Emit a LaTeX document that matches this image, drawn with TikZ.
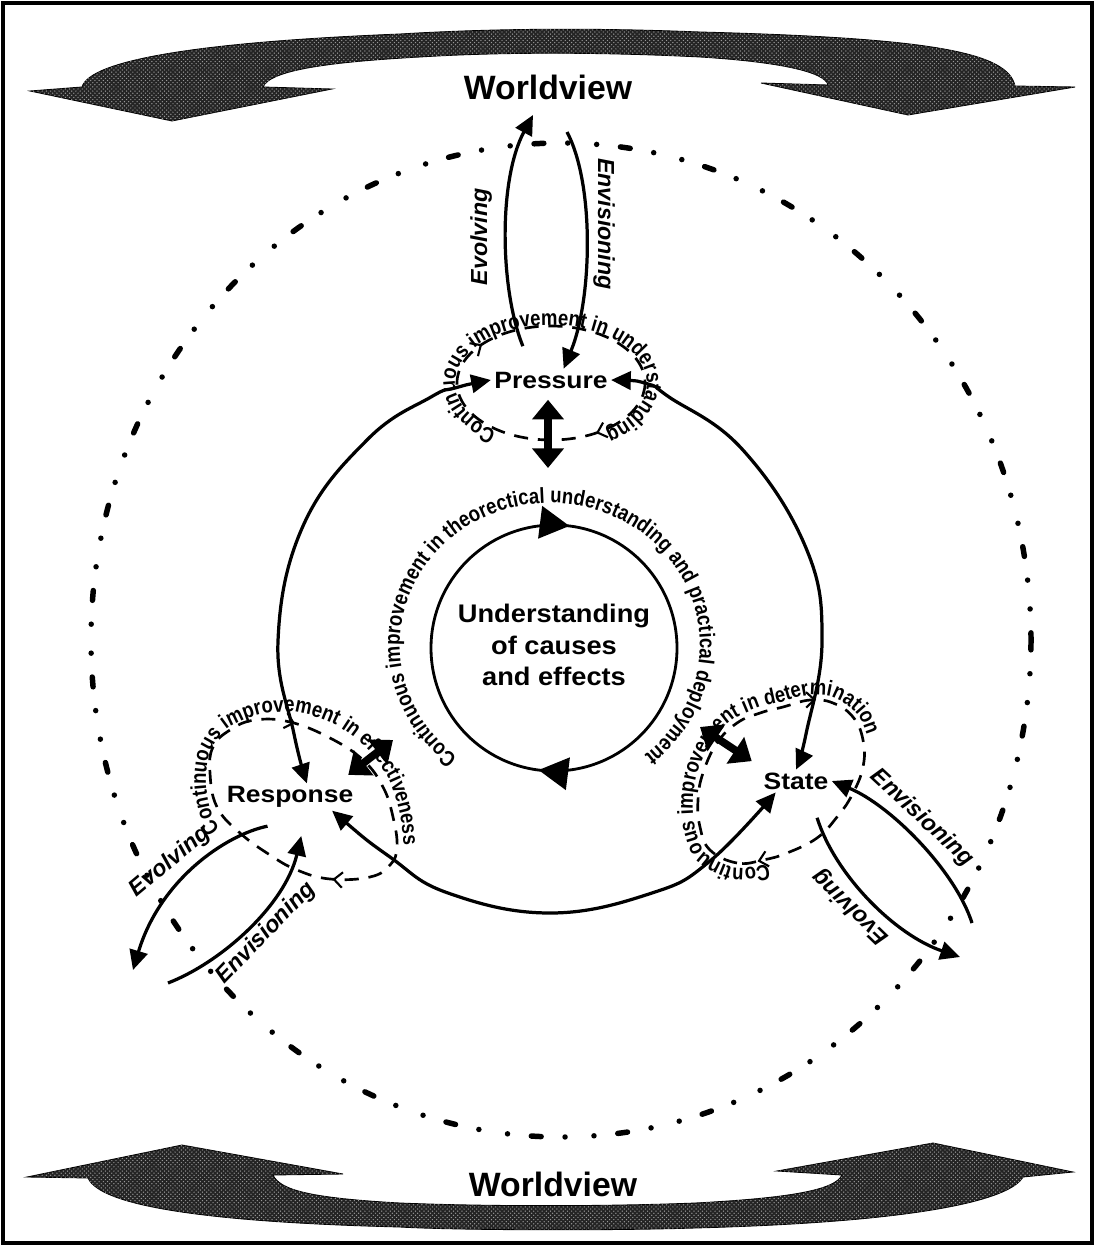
\documentclass[tikz,border=0pt]{standalone}
\usepackage{fontspec}
\setmainfont{Liberation Sans}
\newfontfamily\arcfam[FakeStretch=0.85]{Liberation Sans}
\usetikzlibrary{arrows.meta,decorations.markings,decorations.text,patterns}
\newcommand\worldfont{\bfseries\fontsize{24}{28}\selectfont}
\newcommand\lblfont{\bfseries\fontsize{16.8}{20}\selectfont}
\newcommand\corefont{\bfseries\fontsize{18.1}{22.4}\selectfont}
\newcommand\flowfont{\bfseries\itshape\fontsize{16.5}{20}\selectfont}
\newcommand\arcfont{\arcfam\bfseries\fontsize{15.5}{18}\selectfont}
\tikzset{
  outerframe/.style={line width=2.2pt},
  band/.style={fill=black!86, draw=black, line width=0.6pt,
    postaction={pattern=crosshatch dots, pattern color=black!40}},
  worldlbl/.style={font=\worldfont},
  keylbl/.style={font=\lblfont, inner sep=2pt, xscale=1.12},
  corelbl/.style={font=\corefont, align=center, xscale=1.07},
  flowlbl/.style={font=\flowfont, inner sep=1pt},
  outerring/.style={line width=3.9pt, line cap=round,
    dash pattern=on 7pt off 17pt on 0pt off 20.6pt on 0pt off 17pt},
  ring/.style={line width=2.3pt, {Triangle[length=14pt,width=13pt]}-{Triangle[length=14pt,width=13pt]}},
  flow/.style={line width=2.3pt, -{Triangle[length=14pt,width=13pt]}},
  thickdbl/.style={line width=5.5pt, {Triangle[length=14pt,width=22pt]}-{Triangle[length=14pt,width=22pt]}},
  coreline/.style={line width=2pt},
  loopline/.style={line width=1.9pt, dash pattern=on 10pt off 7pt},
  loopmarks/.style 2 args={postaction={decorate}, decoration={markings,
    mark=at position #1 with {\arrow{Straight Barb[length=6pt,width=11pt,line width=1.5pt]}},
    mark=at position #2 with {\arrow{Straight Barb[length=6pt,width=11pt,line width=1.5pt]}}}},
  arctxt/.style={decorate, decoration={text along path, text align=center, text={|\arcfont|#1}}}
}

\begin{document}
\begin{tikzpicture}[x=0.025cm,y=-0.025cm]
  \useasboundingbox (0,0) rectangle (1095,1247);
  \draw[outerframe] (3,3) rectangle (1092,1243);

  % worldview bands
  \filldraw[band] (30,91) -- (172,121) -- (332,89) -- (263,87)
    .. controls (270,70) and (330,62) .. (420,57)
    .. controls (500,52) and (600,52) .. (700,57)
    .. controls (780,62) and (825,72) .. (828,85)
    -- (761,83) -- (908,115) -- (1075,87) -- (1015,86)
    .. controls (1008,52) and (930,38) .. (700,32)
    .. controls (600,28) and (500,28) .. (400,34)
    .. controls (200,42) and (90,60) .. (82,87) -- cycle;
  \filldraw[band] (27,1177) -- (182,1145) -- (343,1174) -- (273,1175)
    .. controls (280,1190) and (310,1198) .. (400,1203)
    .. controls (500,1207) and (620,1206) .. (695,1203)
    .. controls (790,1198) and (835,1190) .. (842,1175)
    -- (777,1171) -- (933,1143) -- (1073,1172) -- (1023,1177)
    .. controls (1010,1200) and (920,1222) .. (695,1228)
    .. controls (600,1231) and (450,1230) .. (400,1227)
    .. controls (200,1222) and (100,1205) .. (88,1178) -- cycle;
  \node[worldlbl] (wvTop) at (548,87) {Worldview};
  \node[worldlbl] (wvBot) at (553,1184) {Worldview};

  \draw[outerring] (561,640) ellipse [x radius=470, y radius=497];

  % the three poles
  \node[keylbl] (press) at (551,380) {Pressure};
  \node[keylbl] (resp) at (290,797) {Response};
  \node[keylbl] (state) at (796,781) {State};
  \node[corelbl] (core) at (554,645) {Understanding\\of causes\\and effects};

  % core loop
  \draw[coreline, postaction={decorate}, decoration={markings,
      mark=at position 0.27 with {\arrow{Triangle[length=21pt,width=23pt]}},
      mark=at position 0.77 with {\arrow{Triangle[length=21pt,width=23pt]}}}]
    (677,648) arc[start angle=0, end angle=360, radius=123];
  \path[arctxt={Continuous improvement in theorectical understanding and practical deployment}]
    (461.65,759.9) arc[start angle=126, end angle=413, x radius=150, y radius=142];

  % loops round the poles
  \draw[loopline, loopmarks={0.155}{0.6}] (645,383) arc[start angle=0, end angle=360, x radius=94, y radius=57];
  \path[arctxt={Continuous improvement in understanding}]
    (510.4,435.6) arc[start angle=115, end angle=425, x radius=96, y radius=58];
  \draw[loopline, loopmarks={0.28}{0.745}] plot[smooth cycle, tension=0.7] coordinates {(240,833) (217,807) (210,773) (213,747) (230,730) (255,720) (290,722) (330,738) (363,760) (383,787) (393,817) (397,847) (390,865) (370,877) (330,879) (297,870) (270,855)};
  \path[arctxt={Continuous improvement in effectiveness}]
    plot[smooth] coordinates {(236,848) (214,820) (206,785) (210,752) (228,728) (262,714) (300,713) (337,726) (368,750) (389,780) (400,815) (404,850) (403,870)};
  \draw[loopline, loopmarks={0.49}{0.96}] plot[smooth cycle, tension=0.7] coordinates {(763,860) (737,863) (710,850) (700,827) (698,800) (703,773) (717,743) (737,723) (760,713) (783,707) (810,700) (833,703) (853,717) (863,740) (863,767) (852,795) (837,817) (817,838) (787,853)};
  \path[arctxt={Continuous improvement in determination}]
    plot[smooth] coordinates {(800,857) (763,865) (735,868) (706,854) (695,828) (693,800) (698,771) (713,739) (734,719) (758,708) (782,702) (810,695) (835,698) (857,714) (868,740) (868,768)};

  % big ring between the poles
  \coordinate (rTop) at ([xshift=12pt]resp.north);
  \coordinate (sFoot) at ([xshift=11pt]state.south west);
  \draw[ring] plot[smooth, tension=0.7] coordinates {(press.west) (455,388) (431,397) (368,439) (303,526) (278,641) (294,734) (rTop)};
  \draw[ring] plot[smooth, tension=0.7] coordinates {(press.east) (648,384) (669,397) (742,449) (806,548) (822,641) (806,734) (state.north)};
  \draw[ring] plot[smooth, tension=0.7] coordinates {(resp.-20) (390,857) (448,893) (550,913) (652,893) (710,861) (sFoot)};

  % links to the core
  \coordinate (pDown) at (548,468);
  \coordinate (rIn) at (393,740);
  \coordinate (sIn) at (700,727);
  \draw[thickdbl, shorten <=6pt] (pDown |- press.south) -- (pDown);
  \draw[thickdbl] ([xshift=-6pt,yshift=6pt]resp.north east) -- (rIn);
  \draw[thickdbl] ([xshift=-6pt,yshift=6pt]state.north west) -- (sIn);

  % evolving and envisioning
  \coordinate (pEvoTip) at (533,115);
  \coordinate (pEnvTail) at (567,132);
  \coordinate (rEvoTip) at (133,970);
  \coordinate (rEnvTail) at (168,983);
  \coordinate (sEnvTail) at (972,923);
  \coordinate (sEvoTip) at (960,957);
  \draw[flow] ([xshift=-20pt,yshift=16pt]press.north) .. controls (500,290) and (498,180) .. (pEvoTip);
  \draw[flow] (pEnvTail) .. controls (595,185) and (592,300) .. ([xshift=9pt]press.north);
  \draw[flow] ([xshift=-16pt,yshift=-11pt]resp.south) .. controls (225,835) and (160,880) .. (rEvoTip);
  \draw[flow] (rEnvTail) .. controls (222,962) and (285,905) .. ([xshift=8pt,yshift=-18pt]resp.south);
  \draw[flow] (sEnvTail) .. controls (955,870) and (890,805) .. (state.east);
  \draw[flow] ([xshift=15pt,yshift=-18pt]state.south) .. controls (835,875) and (895,935) .. (sEvoTip);
  \node[flowlbl, rotate=90] (pEvoLbl) at (481,237) {Evolving};
  \node[flowlbl, rotate=-90] (pEnvLbl) at (604,224) {Envisioning};
  \node[flowlbl, rotate=40] (rEvoLbl) at (170,862) {Evolving};
  \node[flowlbl, rotate=46] (rEnvLbl) at (266,933) {Envisioning};
  \node[flowlbl, rotate=-43] (sEnvLbl) at (922,818) {Envisioning};
  \node[flowlbl, rotate=136] (sEvoLbl) at (851,907) {Evolving};
\end{tikzpicture}
\end{document}
